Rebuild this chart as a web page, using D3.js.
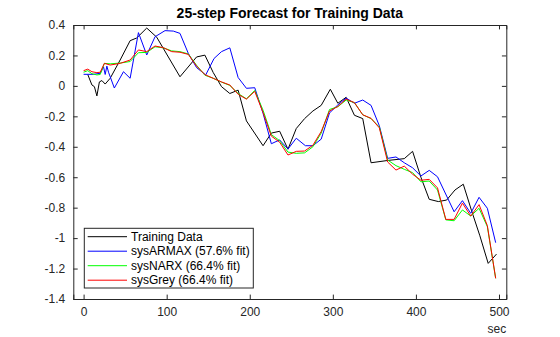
<!DOCTYPE html>
<html>
<head>
<meta charset="utf-8">
<script src="https://cdn.jsdelivr.net/npm/d3@7/dist/d3.min.js"></script>
<style>
  html, body { margin: 0; padding: 0; background: #fff; }
  svg { display: block; font-family: "Liberation Sans", Arial, Helvetica, sans-serif; }
</style>
</head>
<body>
<svg id="chart" width="560" height="337"></svg>
<script>
// ---- Data ----
const titleText = "25-step Forecast for Training Data";
const xLabel = "sec";
const xTicks = [0, 100, 200, 300, 400, 500];
const yTicks = [-1.4, -1.2, -1, -0.8, -0.6, -0.4, -0.2, 0, 0.2, 0.4];
const seriesNames = ["Training Data", "sysARMAX (57.6% fit)", "sysNARX (66.4% fit)", "sysGrey (66.4% fit)"];
const seriesColors = ["#000000", "#0000ff", "#00ff00", "#ff0000"];

const tData = [5, 10, 13, 16, 19, 22, 26, 32, 44, 56, 64, 76, 88, 116, 136, 146, 156, 166, 176, 186, 196, 216, 226, 236, 246, 256, 266, 276, 286, 297, 306, 316, 326, 336, 346, 366, 386, 396, 406, 416, 427, 437, 447, 457, 467, 477, 487, 497];
const yData = [0.075, 0.006, -0.005, -0.066, 0.026, 0.035, 0.012, 0.05, 0.17, 0.297, 0.315, 0.38, 0.32, 0.06, 0.19, 0.202, 0.088, -0.005, -0.05, -0.028, -0.23, -0.393, -0.31, -0.298, -0.416, -0.28, -0.215, -0.165, -0.128, -0.022, -0.114, -0.075, -0.193, -0.215, -0.505, -0.49, -0.478, -0.43, -0.60, -0.745, -0.76, -0.75, -0.684, -0.646, -0.82, -0.985, -1.166, -1.105];

const tArmax = [0, 12, 20, 24, 26, 28, 30, 37, 48, 56, 66, 76, 86, 98, 108, 116, 126, 136, 147, 157, 166, 176, 186, 196, 206, 216, 226, 236, 246, 256, 267, 276, 286, 296, 306, 316, 326, 336, 346, 356, 366, 376, 386, 396, 406, 416, 426, 446, 456, 466, 476, 486, 496];
const yArmax = [0.076, 0.076, 0.083, 0.125, 0.075, 0.13, 0.09, -0.014, 0.093, 0.05, 0.35, 0.203, 0.323, 0.363, 0.36, 0.345, 0.214, 0.12, 0.072, 0.18, 0.225, 0.25, 0.055, -0.016, -0.012, -0.18, -0.38, -0.355, -0.415, -0.344, -0.393, -0.393, -0.35, -0.178, -0.125, -0.08, -0.114, -0.093, -0.128, -0.262, -0.476, -0.467, -0.505, -0.538, -0.592, -0.555, -0.597, -0.827, -0.754, -0.837, -0.732, -0.804, -1.03];

const tFit = [0, 5, 10, 16, 20, 25, 32, 44, 56, 66, 76, 86, 96, 106, 116, 126, 136, 146, 156, 166, 176, 186, 196, 206, 216, 226, 236, 246, 256, 266, 276, 286, 296, 306, 316, 326, 336, 346, 356, 366, 376, 386, 396, 406, 416, 426, 436, 446, 456, 466, 476, 486, 496];
const yNarx = [0.09, 0.10, 0.08, 0.072, 0.075, 0.148, 0.145, 0.150, 0.160, 0.218, 0.22, 0.257, 0.25, 0.23, 0.225, 0.21, 0.135, 0.07, 0.05, 0.025, 0.003, -0.05, -0.085, -0.03, -0.16, -0.32, -0.36, -0.435, -0.443, -0.44, -0.40, -0.31, -0.155, -0.137, -0.093, -0.11, -0.19, -0.215, -0.27, -0.487, -0.524, -0.548, -0.57, -0.63, -0.625, -0.684, -0.88, -0.886, -0.815, -0.855, -0.804, -0.925, -1.264];
const yGrey = [0.10, 0.11, 0.093, 0.087, 0.09, 0.148, 0.137, 0.148, 0.17, 0.236, 0.225, 0.262, 0.251, 0.225, 0.221, 0.207, 0.13, 0.074, 0.05, 0.026, 0.006, -0.055, -0.087, -0.036, -0.175, -0.33, -0.37, -0.454, -0.43, -0.428, -0.39, -0.30, -0.165, -0.135, -0.087, -0.11, -0.19, -0.213, -0.276, -0.50, -0.553, -0.527, -0.58, -0.62, -0.614, -0.67, -0.877, -0.877, -0.77, -0.855, -0.78, -0.918, -1.264];

// ---- Layout ----
const svg = d3.select("#chart");
const L = 73.3, R = 506.3, T = 25, B = 299;
const x = d3.scaleLinear().domain([-12.4, 508.8]).range([L, R]);
const y = d3.scaleLinear().domain([-1.4, 0.4]).range([B, T]);
const axisColor = "#262626";
const tickLen = 4.4;

// Title
svg.append("text")
  .attr("x", (L + R) / 2).attr("y", 18)
  .attr("text-anchor", "middle")
  .attr("font-size", 14).attr("font-weight", "bold").attr("fill", "#000")
  .text(titleText);

// Series
const series = [
  {t: tData, v: yData},
  {t: tArmax, v: yArmax},
  {t: tFit, v: yNarx},
  {t: tFit, v: yGrey}
];
const clip = svg.append("clipPath").attr("id", "clip")
  .append("rect").attr("x", L).attr("y", T).attr("width", R - L).attr("height", B - T);
const line = d3.line().x(d => x(d[0])).y(d => y(d[1]));
const plot = svg.append("g").attr("clip-path", "url(#clip)");
series.forEach((s, i) => {
  plot.append("path")
    .datum(s.t.map((t, k) => [t, s.v[k]]))
    .attr("d", line)
    .attr("fill", "none")
    .attr("stroke", seriesColors[i])
    .attr("stroke-width", 1)
    .attr("stroke-linejoin", "miter");
});

// Axes (ticks inward, box)
const fmt = v => String(+v.toFixed(1));
const gx = svg.append("g").attr("transform", `translate(0,${B})`)
  .call(d3.axisBottom(x).tickValues(xTicks).tickSize(-tickLen).tickPadding(8).tickFormat(d3.format("d")));
const gxTop = svg.append("g").attr("transform", `translate(0,${T})`)
  .call(d3.axisTop(x).tickValues(xTicks).tickSize(-tickLen).tickFormat(""));
const gy = svg.append("g").attr("transform", `translate(${L},0)`)
  .call(d3.axisLeft(y).tickValues(yTicks).tickSize(-tickLen).tickPadding(8).tickFormat(fmt));
const gyR = svg.append("g").attr("transform", `translate(${R},0)`)
  .call(d3.axisRight(y).tickValues(yTicks).tickSize(-tickLen).tickFormat(""));
[gx, gxTop, gy, gyR].forEach(g => {
  g.select(".domain").attr("stroke", axisColor).attr("stroke-width", 1);
  g.selectAll(".tick line").attr("stroke", axisColor).attr("stroke-width", 1);
  g.selectAll(".tick text").attr("fill", axisColor).attr("font-size", 12)
    .attr("font-family", "'Liberation Sans', Arial, Helvetica, sans-serif");
});

// x label
svg.append("text")
  .attr("x", R).attr("y", 333)
  .attr("text-anchor", "end")
  .attr("font-size", 12).attr("fill", axisColor)
  .text(xLabel);

// Legend
const lg = svg.append("g");
const lgX = 84.3, lgY = 228.3, lgW = 169, lgH = 59.7, rowH = 14.5;
lg.append("rect").attr("x", lgX).attr("y", lgY).attr("width", lgW).attr("height", lgH)
  .attr("fill", "#fff").attr("stroke", axisColor).attr("stroke-width", 1);
seriesNames.forEach((name, i) => {
  const cy = lgY + 8.4 + i * rowH;
  lg.append("line").attr("x1", lgX + 3.4).attr("x2", lgX + 42.7).attr("y1", cy).attr("y2", cy)
    .attr("stroke", seriesColors[i]).attr("stroke-width", 1);
  lg.append("text").attr("x", lgX + 46.7).attr("y", cy + 4.2)
    .attr("font-size", 12).attr("fill", "#000").text(name);
});
</script>
</body>
</html>
